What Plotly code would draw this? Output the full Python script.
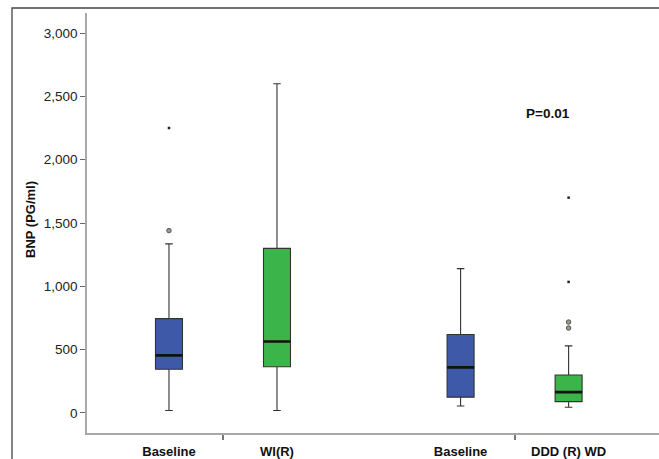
import plotly.graph_objects as go

# ---- data (BNP, pg/ml) ----
categories = ["Baseline", "WI(R)", "Baseline", "DDD (R) WD"]
lower_whisker = [20, 20, 55, 45]
q1_values = [345, 365, 125, 90]
median_values = [455, 565, 360, 165]
q3_values = [745, 1300, 620, 300]
upper_whisker = [1335, 2600, 1140, 530]
outliers_circle = [[1440], [], [], [718, 671]]
outliers_extreme = [[2250], [], [], [1700, 1035]]
p_value_text = "P=0.01"

# ---- layout constants ----
positions = [1.0, 2.0, 3.7, 4.7]
box_colors = ["#3f59a9", "#3bb54a", "#3f59a9", "#3bb54a"]
W, H = 659, 459
ML, MT, MB, MR = 87, 13, 26, 0
plot_w = W - ML - MR
plot_h = H - MT - MB
FONT = "Liberation Sans, Arial"

fig = go.Figure()
for i in range(len(categories)):
    fig.add_trace(go.Box(
        x=[positions[i]], q1=[q1_values[i]], median=[median_values[i]],
        q3=[q3_values[i]], lowerfence=[lower_whisker[i]], upperfence=[upper_whisker[i]],
        width=0.25, whiskerwidth=0.28, fillcolor=box_colors[i],
        line=dict(color="#333333", width=1.1), boxpoints=False,
        showlegend=False, hoverinfo="skip",
    ))
    # thick median line
    m = median_values[i]
    fig.add_trace(go.Box(
        x=[positions[i]], q1=[m], median=[m], q3=[m], lowerfence=[m], upperfence=[m],
        width=0.25, whiskerwidth=0, fillcolor="rgba(0,0,0,0)",
        line=dict(color="#111111", width=2.6), boxpoints=False,
        showlegend=False, hoverinfo="skip",
    ))
    if outliers_circle[i]:
        fig.add_trace(go.Scatter(
            x=[positions[i]] * len(outliers_circle[i]), y=outliers_circle[i], mode="markers",
            marker=dict(symbol="circle", size=4.5, color="#9a9a8a",
                        line=dict(color="#555555", width=1)),
            showlegend=False, hoverinfo="skip",
        ))
    if outliers_extreme[i]:
        fig.add_trace(go.Scatter(
            x=[positions[i]] * len(outliers_extreme[i]), y=outliers_extreme[i], mode="markers",
            marker=dict(symbol="square", size=2.5, color="#222222"),
            showlegend=False, hoverinfo="skip",
        ))

fig.add_annotation(x=4.51, y=2368, xref="x", yref="y", text="<b>" + p_value_text + "</b>",
                   showarrow=False, font=dict(family=FONT, size=13.5, color="#111"))

fig.add_annotation(x=(30 - ML) / plot_w, y=(H - MB - 220) / plot_h, xref="paper", yref="paper",
                   xanchor="center", yanchor="middle",
                   text="<b>BNP (PG/ml)</b>", textangle=-90, showarrow=False,
                   font=dict(family=FONT, size=13, color="#111"))

# outer frame
fig.add_shape(type="rect", xref="paper", yref="paper",
              x0=(12 - ML) / plot_w, x1=1.2, y0=-0.3, y1=(H - MB - 8) / plot_h,
              line=dict(color="#444444", width=1.3), fillcolor="rgba(0,0,0,0)", layer="below")

fig.update_layout(
    width=W, height=H, margin=dict(l=ML, r=MR, t=MT, b=MB, pad=0),
    paper_bgcolor="white", plot_bgcolor="white",
    font=dict(family=FONT, size=13, color="#222"),
    xaxis=dict(range=[0.241, 5.537], tickvals=positions, ticktext=["<b>%s</b>" % c for c in categories],
               ticks="outside", ticklen=0, tickcolor="#888", ticklabelstandoff=6,
               minor=dict(ticks="outside", tick0=1.5, dtick=2.7, ticklen=5, tickcolor="#777", tickwidth=1.5),
               showline=True, linecolor="#a8a8a8", linewidth=1.5, showgrid=False, zeroline=False,
               tickfont=dict(size=13, color="#111")),
    yaxis=dict(range=[-158, 3158], tickvals=[0, 500, 1000, 1500, 2000, 2500, 3000],
               ticktext=["0", "500", "1,000", "1,500", "2,000", "2,500", "3,000"],
               ticks="outside", ticklen=5, tickcolor="#666", tickwidth=1,
               showline=True, linecolor="#a8a8a8", linewidth=1.5, showgrid=False, zeroline=False,
               tickfont=dict(size=13.5, color="#222")),
)

fig.write_html("out.html", config={"displayModeBar": False},
               post_script="document.body.style.margin='0';document.body.style.overflow='hidden';")
